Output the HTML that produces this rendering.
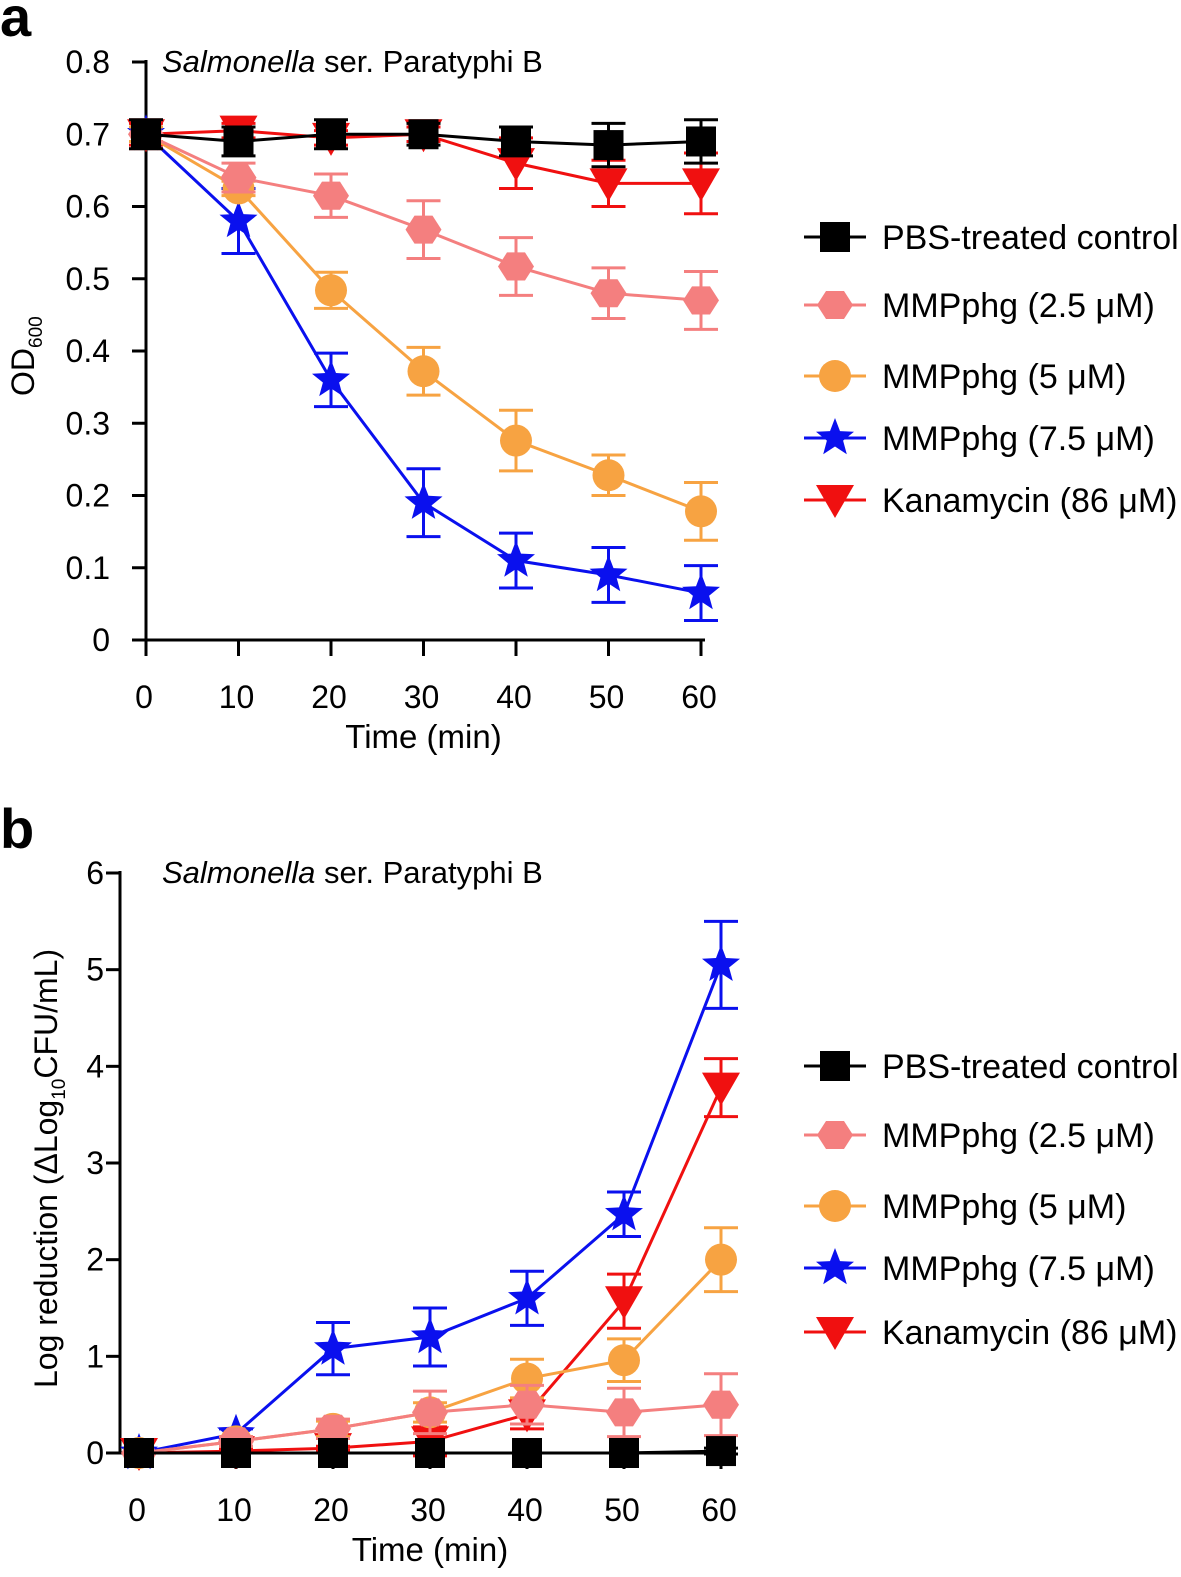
<!DOCTYPE html>
<html><head><meta charset="utf-8"><style>
body{margin:0;background:#fff;}
svg{display:block;font-family:"Liberation Sans",Arial,sans-serif;}
</style></head><body>
<svg id="fig" width="1181" height="1577" viewBox="0 0 1181 1577" xmlns="http://www.w3.org/2000/svg"></svg>
<script>
const times=[0,10,20,30,40,50,60];
const seriesNames=["PBS-treated control","MMPphg (2.5 μM)","MMPphg (5 μM)","MMPphg (7.5 μM)","Kanamycin (86 μM)"];
const colors=["#000000","#f47f7f","#f7a342","#0a10ee","#f01010"];
const markers=["square","hexagon","circle","star","tri"];
// panel a OD600
const aPBS=[0.70,0.69,0.70,0.70,0.69,0.685,0.69];
const aPBSerr=[0.02,0.02,0.02,0.015,0.02,0.03,0.03];
const a25=[0.70,0.64,0.615,0.568,0.517,0.48,0.47];
const a25err=[0.02,0.02,0.03,0.04,0.04,0.035,0.04];
const a5=[0.70,0.625,0.484,0.372,0.276,0.228,0.178];
const a5err=[0.01,0.01,0.025,0.033,0.042,0.028,0.04];
const a75=[0.70,0.58,0.36,0.19,0.11,0.09,0.065];
const a75err=[0.01,0.045,0.037,0.047,0.038,0.038,0.038];
const aKan=[0.70,0.705,0.695,0.70,0.66,0.632,0.632];
const aKanerr=[0.015,0.01,0.01,0.01,0.035,0.032,0.042];
// panel b log reduction
const bPBS=[0,0,0,0,0,0,0.02];
const bPBSerr=[0,0,0,0,0,0,0.03];
const b25=[0,0.12,0.25,0.42,0.50,0.42,0.50];
const b25err=[0,0.05,0.1,0.22,0.2,0.25,0.32];
const b5=[0,0.12,0.25,0.42,0.77,0.96,2.0];
const b5err=[0,0.05,0.08,0.1,0.2,0.22,0.33];
const b75=[0,0.2,1.08,1.2,1.6,2.47,5.05];
const b75err=[0,0.05,0.27,0.3,0.28,0.23,0.45];
const bKan=[0,0.02,0.05,0.12,0.4,1.57,3.78];
const bKanerr=[0,0.02,0.02,0.15,0.15,0.28,0.3];
const aTicks=["0","0.1","0.2","0.3","0.4","0.5","0.6","0.7","0.8"];
const bTicks=["0","1","2","3","4","5","6"];

const NS="http://www.w3.org/2000/svg";
const svg=document.getElementById('fig');
function el(tag,attrs,parent,text){const e=document.createElementNS(NS,tag);for(const k in attrs)e.setAttribute(k,attrs[k]);if(text!==undefined)e.textContent=text;(parent||svg).appendChild(e);return e;}
function marker(g,type,cx,cy,c){
  const r=18;let e;
  if(type==="square")e=el('rect',{x:cx-15,y:cy-15,width:30,height:30,fill:c},g);
  else if(type==="circle")e=el('circle',{cx,cy,r:16,fill:c},g);
  else if(type==="hexagon"){let p=[];for(let i=0;i<6;i++){const a=Math.PI/3*i;p.push((cx+r*Math.cos(a)).toFixed(1)+","+(cy+r*0.9*Math.sin(a)).toFixed(1));}e=el('polygon',{points:p.join(" "),fill:c},g);}
  else if(type==="star"){let p=[];for(let i=0;i<10;i++){const a=-Math.PI/2+Math.PI/5*i;const rr=i%2?8.5:20;p.push((cx+rr*Math.cos(a)).toFixed(1)+","+(cy+rr*Math.sin(a)).toFixed(1));}e=el('polygon',{points:p.join(" "),fill:c},g);}
  else if(type==="tri")e=el('polygon',{points:`${cx-19},${cy-15} ${cx+19},${cy-15} ${cx},${cy+18}`,fill:c},g);
  
  
}
function panel(cfg){
  const g=el('g',{});
  
  
  const xs=t=>cfg.x0+(cfg.x1-cfg.x0)*t/60;
  const ys=v=>cfg.y0-(cfg.y0-cfg.yTop)*v/cfg.ymax;
  const ya=el('line',{x1:cfg.axX,y1:cfg.yTop-2,x2:cfg.axX,y2:cfg.y0+1,stroke:"#000","stroke-width":3},g);
  
  const xa=el('line',{x1:cfg.axX,y1:cfg.xAxisY,x2:cfg.x1+4,y2:cfg.xAxisY,stroke:"#000","stroke-width":3},g);
  
  cfg.ticks.forEach((lab,i)=>{const v=cfg.ymax*i/(cfg.ticks.length-1);const y=ys(v);
    el('line',{x1:cfg.axX-14,y1:y,x2:cfg.axX,y2:y,stroke:"#000","stroke-width":3},g);
    const t=el('text',{x:cfg.axX-cfg.tickOff,y:y+11,"text-anchor":"end","font-size":32},g,lab);
    });
  times.forEach(tm=>{const x=xs(tm);
    el('line',{x1:x,y1:cfg.xAxisY,x2:x,y2:cfg.xAxisY+16,stroke:"#000","stroke-width":3},g);
    const t=el('text',{x:x-2,y:cfg.xAxisY+68,"text-anchor":"middle","font-size":32},g,String(tm));
    });
  const xt=el('text',{x:(cfg.x0+cfg.x1)/2,y:cfg.xAxisY+108,"text-anchor":"middle","font-size":33},g,"Time (min)");
  
  const tt=el('text',{x:162,y:cfg.yTop+10,"font-size":31},g);
  
  el('tspan',{"font-style":"italic"},tt,"Salmonella");el('tspan',{},tt," ser. Paratyphi B");
  cfg.yTitle(g);
  for(let si=cfg.data.length-1;si>=0;si--){
    const d=cfg.data[si];
    const sg=el('g',{},g);
    
    const c=colors[si];
    el('polyline',{points:d.v.map((v,i)=>xs(times[i])+","+ys(v)).join(" "),fill:"none",stroke:c,"stroke-width":3},sg);
    d.v.forEach((v,i)=>{const x=xs(times[i]);const e=d.e[i];if(e>0){
      el('line',{x1:x,y1:ys(v+e),x2:x,y2:ys(v-e),stroke:c,"stroke-width":3},sg);
      el('line',{x1:x-17,y1:ys(v+e),x2:x+17,y2:ys(v+e),stroke:c,"stroke-width":3},sg);
      el('line',{x1:x-17,y1:ys(v-e),x2:x+17,y2:ys(v-e),stroke:c,"stroke-width":3},sg);}});
    d.v.forEach((v,i)=>marker(sg,markers[si],xs(times[i]),ys(v),c));
  }
  cfg.legY.forEach((y,i)=>{const lg=el('g',{},g);
    
    el('line',{x1:804,y1:y,x2:866,y2:y,stroke:colors[i],"stroke-width":3},lg);
    marker(lg,markers[i],835,y,colors[i]);
    el('text',{x:882,y:y+12,"font-size":34},lg,seriesNames[i]);});
  const pl=el('text',{x:0,y:cfg.labelY,"font-size":56,"font-weight":"bold"},g,cfg.label);
  
}
panel({name:"panel-a",label:"a",labelY:36,axX:146,x0:146,x1:701,y0:640,yTop:62,ymax:0.8,xAxisY:640,ticks:aTicks,tickOff:36,
  data:[{v:aPBS,e:aPBSerr},{v:a25,e:a25err},{v:a5,e:a5err},{v:a75,e:a75err},{v:aKan,e:aKanerr}],
  legY:[237,305,376,438,500],
  yTitle:g=>{const t=el('text',{transform:"translate(34,396) rotate(-90)","font-size":32},g);
    
    el('tspan',{},t,"OD");el('tspan',{"font-size":19,dy:8},t,"600");}});
panel({name:"panel-b",label:"b",labelY:848,axX:120,x0:139,x1:721,y0:1453,yTop:873,ymax:6,xAxisY:1453,ticks:bTicks,tickOff:16,
  data:[{v:bPBS,e:bPBSerr},{v:b25,e:b25err},{v:b5,e:b5err},{v:b75,e:b75err},{v:bKan,e:bKanerr}],
  legY:[1066,1135,1206,1268,1332],
  yTitle:g=>{const t=el('text',{transform:"translate(57,1388) rotate(-90)","font-size":32},g);
    
    el('tspan',{},t,"Log reduction (ΔLog");el('tspan',{"font-size":19,dy:8},t,"10");el('tspan',{dy:-8},t,"CFU/mL)");}});
</script>
</body></html>
